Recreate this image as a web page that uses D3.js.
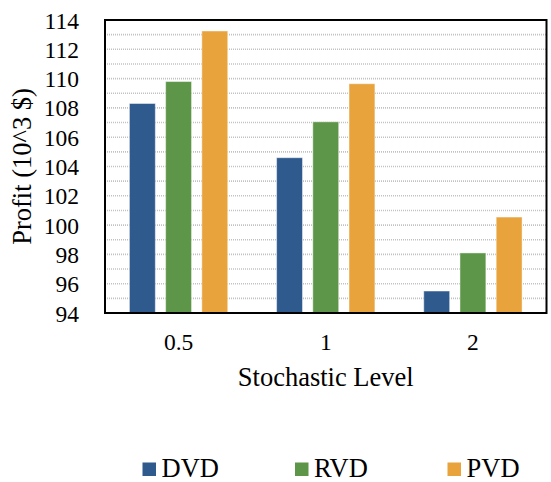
<!DOCTYPE html>
<html>
<head>
<meta charset="utf-8">
<script src="https://cdn.jsdelivr.net/npm/d3@7"></script>
<style>
  html, body { margin: 0; padding: 0; background: #fff; }
  svg { display: block; }
</style>
</head>
<body>
<svg id="chart" width="551" height="482"></svg>
<script>
// Profit by stochastic level for three vehicle-dispatch strategies
const categories = ["0.5", "1", "2"];
const seriesNames = ["DVD", "RVD", "PVD"];
const dvdValues = [108.3, 104.6, 95.5];
const rvdValues = [109.8, 107.05, 98.1];
const pvdValues = [113.25, 109.65, 100.55];
const yTickValues = [94, 96, 98, 100, 102, 104, 106, 108, 110, 112, 114];
const seriesColors = ["#2f5a8e", "#5e9649", "#e8a33d"];

const FONT = "Liberation Serif, Times New Roman, serif";
const TICK_SIZE = 23.5;
const TITLE_SIZE = 26.5;

const seriesValues = [dvdValues, rvdValues, pvdValues];
const rows = categories.map((c, i) => ({
  category: c,
  values: seriesNames.map((s, j) => ({ series: s, value: seriesValues[j][i], color: seriesColors[j] }))
}));

const svg = d3.select("#chart");
const plot = { left: 105, top: 20, right: 546.5, bottom: 313 };

const x0 = d3.scaleBand()
  .domain(categories)
  .range([plot.left, plot.right])
  .paddingInner(0.332)
  .paddingOuter(0.166);

const x1 = d3.scaleBand()
  .domain(seriesNames)
  .range([0, x0.bandwidth()])
  .paddingInner(0.285)
  .paddingOuter(0);

const y = d3.scaleLinear()
  .domain([94, 114])
  .range([plot.bottom, plot.top]);

// Minor gridlines at every unit
const gridValues = d3.range(95, 114, 1);
svg.append("g")
  .selectAll("line")
  .data(gridValues)
  .join("line")
  .attr("x1", plot.left)
  .attr("x2", plot.right)
  .attr("y1", d => y(d))
  .attr("y2", d => y(d))
  .attr("stroke", "#c2c2c2")
  .attr("stroke-width", 1.6)
  .attr("stroke-dasharray", "1,1");

// Bars
const groups = svg.append("g")
  .selectAll("g")
  .data(rows)
  .join("g")
  .attr("transform", d => `translate(${x0(d.category)},0)`);

groups.selectAll("rect")
  .data(d => d.values)
  .join("rect")
  .attr("x", d => x1(d.series))
  .attr("y", d => y(d.value))
  .attr("width", x1.bandwidth())
  .attr("height", d => y(94) - y(d.value))
  .attr("fill", d => d.color)
  .attr("stroke", "rgba(255,255,255,0.45)")
  .attr("stroke-width", 1);

// Plot frame
svg.append("rect")
  .attr("x", plot.left)
  .attr("y", plot.top)
  .attr("width", plot.right - plot.left)
  .attr("height", plot.bottom - plot.top)
  .attr("fill", "none")
  .attr("stroke", "#000")
  .attr("stroke-width", 2);

// Y axis labels
const yAxis = d3.axisLeft(y).tickValues(yTickValues).tickSize(0).tickPadding(0);
const yg = svg.append("g")
  .attr("transform", `translate(${plot.left - 26},0)`)
  .call(yAxis)
  .attr("font-family", FONT)
  .attr("font-size", TICK_SIZE);
yg.select(".domain").remove();
yg.selectAll("text")
  .attr("fill", "#000")
  .attr("dy", "0.34em");

// X axis labels
const xAxis = d3.axisBottom(x0).tickSize(0).tickPadding(0);
const xg = svg.append("g")
  .attr("transform", "translate(0,350)")
  .call(xAxis)
  .attr("font-family", FONT)
  .attr("font-size", TICK_SIZE);
xg.select(".domain").remove();
xg.selectAll("text")
  .attr("fill", "#000")
  .attr("y", 0)
  .attr("dy", 0);

// Axis titles
svg.append("text")
  .attr("x", (plot.left + plot.right) / 2)
  .attr("y", 386)
  .attr("text-anchor", "middle")
  .attr("font-family", FONT)
  .attr("font-size", TITLE_SIZE)
  .attr("fill", "#000")
  .text("Stochastic Level");

svg.append("text")
  .attr("transform", `translate(31,${(plot.top + plot.bottom) / 2}) rotate(-90)`)
  .attr("text-anchor", "middle")
  .attr("font-family", FONT)
  .attr("font-size", TITLE_SIZE)
  .attr("fill", "#000")
  .text("Profit (10^3 $)");

// Legend
const legendX = [142.5, 295, 447.5];
const legend = svg.append("g")
  .selectAll("g")
  .data(seriesNames)
  .join("g")
  .attr("transform", (d, i) => `translate(${legendX[i]},462.5)`);

legend.append("rect")
  .attr("width", 13.5)
  .attr("height", 13.5)
  .attr("fill", (d, i) => seriesColors[i]);

legend.append("text")
  .attr("x", 19)
  .attr("y", 14)
  .attr("font-family", FONT)
  .attr("font-size", TITLE_SIZE)
  .attr("fill", "#000")
  .text(d => d);
</script>
</body>
</html>
